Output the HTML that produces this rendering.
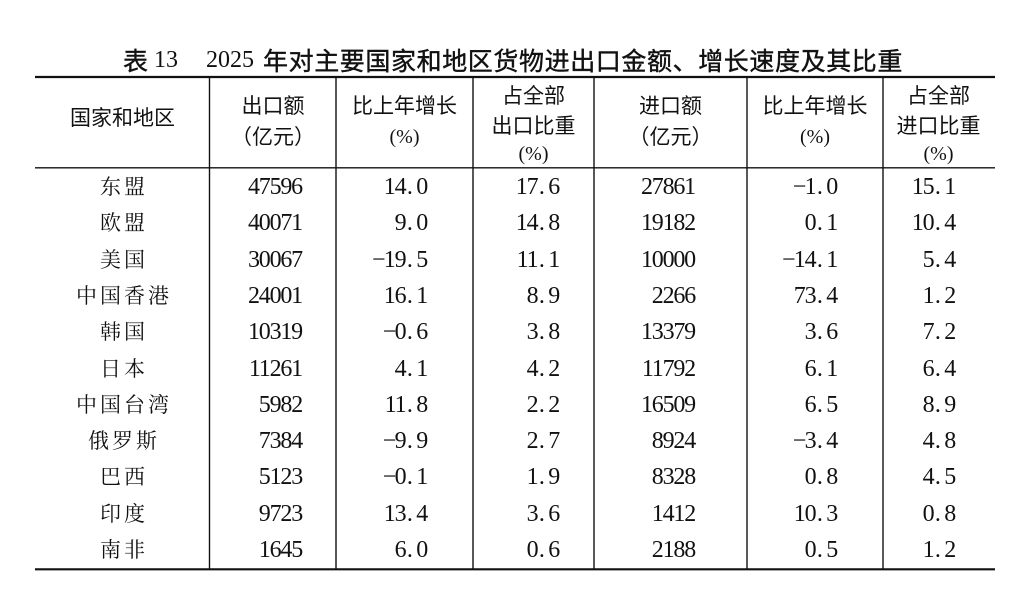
<!DOCTYPE html>
<html><head><meta charset="utf-8">
<style>
html,body{margin:0;padding:0;background:#fff;}
body{width:1024px;height:612px;position:relative;overflow:hidden;color:#111;}
.t{position:absolute;white-space:nowrap;line-height:30px;}
.ti{font-family:"Noto Sans CJK SC","WenQuanYi Zen Hei",sans-serif;font-size:25px;font-weight:400;-webkit-text-stroke:0.4px #111;}
.td{font-family:"Liberation Serif",serif;font-size:24px;}
.h{position:absolute;white-space:nowrap;line-height:30px;text-align:center;font-family:"Liberation Sans","Noto Sans CJK SC",sans-serif;font-size:21px;color:#111;}
.p{font-family:"Liberation Serif",serif;font-size:20px;}
.r{position:absolute;left:0;width:1024px;height:30px;}
.nm{position:absolute;left:35px;width:175px;text-align:center;line-height:30px;font-family:"Liberation Serif","Noto Serif CJK SC","Noto Sans CJK SC",serif;font-size:21px;letter-spacing:3px;padding-left:3px;box-sizing:border-box;white-space:nowrap;}
.n{position:absolute;top:0;line-height:30px;text-align:right;font-family:"Liberation Serif",serif;font-size:24px;letter-spacing:-1.2px;white-space:nowrap;}
.n i{font-style:normal;display:inline-block;width:10.8px;text-align:left;padding-left:1.5px;box-sizing:border-box;letter-spacing:0;}
.n b{font-weight:normal;display:inline-block;width:10.8px;text-align:left;letter-spacing:0;font-size:24px;margin-left:-1px;margin-right:1px;}
.c2{left:210px;width:92px}
.c3{left:336px;width:91px}
.c4{left:473px;width:86px}
.c5{left:594px;width:101px}
.c6{left:747px;width:90px}
.c7{left:883px;width:72px}
svg{position:absolute;left:0;top:0;}
</style></head><body>
<svg width="1024" height="612" viewBox="0 0 1024 612">
<g stroke="#111" fill="none">
<line x1="35" y1="77" x2="995" y2="77" stroke-width="2.2"/>
<line x1="35" y1="167.8" x2="995" y2="167.8" stroke-width="1.4"/>
<line x1="35" y1="569.3" x2="995" y2="569.3" stroke-width="2.2"/>
<line x1="209.5" y1="77" x2="209.5" y2="569" stroke-width="1.4"/>
<line x1="336" y1="77" x2="336" y2="569" stroke-width="1.4"/>
<line x1="473" y1="77" x2="473" y2="569" stroke-width="1.4"/>
<line x1="594" y1="77" x2="594" y2="569" stroke-width="1.4"/>
<line x1="747" y1="77" x2="747" y2="569" stroke-width="1.4"/>
<line x1="883" y1="77" x2="883" y2="569" stroke-width="1.4"/>
</g>
</svg>

<!-- Title -->
<div class="t ti" style="left:123px;top:45px;">表</div>
<div class="t td" style="left:154px;top:45px;">13</div>
<div class="t td" style="left:206px;top:45px;">2025</div>
<div class="t ti" style="left:263px;top:45px;letter-spacing:0.6px;">年对主要国家和地区货物进出口金额、增长速度及其比重</div>

<!-- Header -->
<div class="h" style="left:35px;width:175px;top:103.5px;">国家和地区</div>

<div class="h" style="left:210px;width:126px;top:91.5px;">出口额</div>
<div class="h" style="left:210px;width:126px;top:123px;">（亿元）</div>

<div class="h" style="left:336px;width:137px;top:91.5px;">比上年增长</div>
<div class="h" style="left:336px;width:137px;top:122px;"><span class="p">(%)</span></div>

<div class="h" style="left:473px;width:121px;top:81.5px;">占全部</div>
<div class="h" style="left:473px;width:121px;top:111.5px;">出口比重</div>
<div class="h" style="left:473px;width:121px;top:139px;"><span class="p">(%)</span></div>

<div class="h" style="left:594px;width:153px;top:91.5px;">进口额</div>
<div class="h" style="left:594px;width:153px;top:123px;">（亿元）</div>

<div class="h" style="left:747px;width:136px;top:91.5px;">比上年增长</div>
<div class="h" style="left:747px;width:136px;top:122px;"><span class="p">(%)</span></div>

<div class="h" style="left:883px;width:111px;top:81.5px;">占全部</div>
<div class="h" style="left:883px;width:111px;top:111.5px;">进口比重</div>
<div class="h" style="left:883px;width:111px;top:139px;"><span class="p">(%)</span></div>

<!-- Rows -->
<div class="r" style="top:172px"><div class="nm">东盟</div>
<div class="n c2">47596</div><div class="n c3">14<i>.</i>0</div><div class="n c4">17<i>.</i>6</div><div class="n c5">27861</div><div class="n c6"><b>−</b>1<i>.</i>0</div><div class="n c7">15<i>.</i>1</div></div>

<div class="r" style="top:208.3px"><div class="nm">欧盟</div>
<div class="n c2">40071</div><div class="n c3">9<i>.</i>0</div><div class="n c4">14<i>.</i>8</div><div class="n c5">19182</div><div class="n c6">0<i>.</i>1</div><div class="n c7">10<i>.</i>4</div></div>

<div class="r" style="top:244.6px"><div class="nm">美国</div>
<div class="n c2">30067</div><div class="n c3"><b>−</b>19<i>.</i>5</div><div class="n c4">11<i>.</i>1</div><div class="n c5">10000</div><div class="n c6"><b>−</b>14<i>.</i>1</div><div class="n c7">5<i>.</i>4</div></div>

<div class="r" style="top:280.9px"><div class="nm">中国香港</div>
<div class="n c2">24001</div><div class="n c3">16<i>.</i>1</div><div class="n c4">8<i>.</i>9</div><div class="n c5">2266</div><div class="n c6">73<i>.</i>4</div><div class="n c7">1<i>.</i>2</div></div>

<div class="r" style="top:317.2px"><div class="nm">韩国</div>
<div class="n c2">10319</div><div class="n c3"><b>−</b>0<i>.</i>6</div><div class="n c4">3<i>.</i>8</div><div class="n c5">13379</div><div class="n c6">3<i>.</i>6</div><div class="n c7">7<i>.</i>2</div></div>

<div class="r" style="top:353.5px"><div class="nm">日本</div>
<div class="n c2">11261</div><div class="n c3">4<i>.</i>1</div><div class="n c4">4<i>.</i>2</div><div class="n c5">11792</div><div class="n c6">6<i>.</i>1</div><div class="n c7">6<i>.</i>4</div></div>

<div class="r" style="top:389.8px"><div class="nm">中国台湾</div>
<div class="n c2">5982</div><div class="n c3">11<i>.</i>8</div><div class="n c4">2<i>.</i>2</div><div class="n c5">16509</div><div class="n c6">6<i>.</i>5</div><div class="n c7">8<i>.</i>9</div></div>

<div class="r" style="top:426.1px"><div class="nm">俄罗斯</div>
<div class="n c2">7384</div><div class="n c3"><b>−</b>9<i>.</i>9</div><div class="n c4">2<i>.</i>7</div><div class="n c5">8924</div><div class="n c6"><b>−</b>3<i>.</i>4</div><div class="n c7">4<i>.</i>8</div></div>

<div class="r" style="top:462.4px"><div class="nm">巴西</div>
<div class="n c2">5123</div><div class="n c3"><b>−</b>0<i>.</i>1</div><div class="n c4">1<i>.</i>9</div><div class="n c5">8328</div><div class="n c6">0<i>.</i>8</div><div class="n c7">4<i>.</i>5</div></div>

<div class="r" style="top:498.7px"><div class="nm">印度</div>
<div class="n c2">9723</div><div class="n c3">13<i>.</i>4</div><div class="n c4">3<i>.</i>6</div><div class="n c5">1412</div><div class="n c6">10<i>.</i>3</div><div class="n c7">0<i>.</i>8</div></div>

<div class="r" style="top:535px"><div class="nm">南非</div>
<div class="n c2">1645</div><div class="n c3">6<i>.</i>0</div><div class="n c4">0<i>.</i>6</div><div class="n c5">2188</div><div class="n c6">0<i>.</i>5</div><div class="n c7">1<i>.</i>2</div></div>

</body></html>
